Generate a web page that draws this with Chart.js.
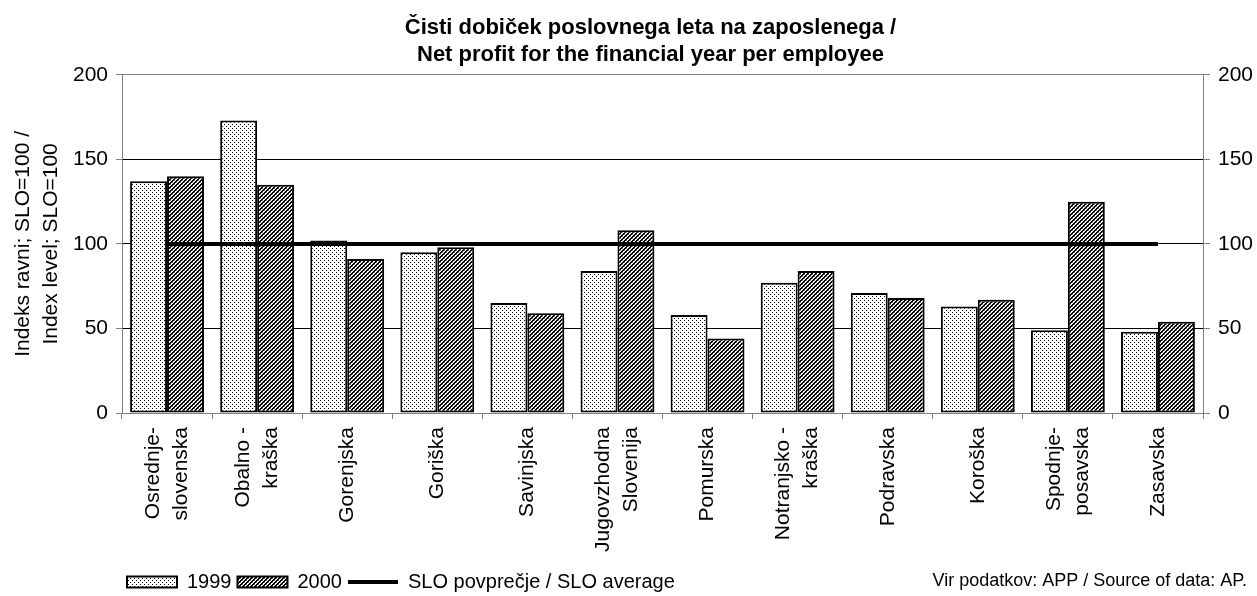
<!DOCTYPE html>
<html>
<head>
<meta charset="utf-8">
<script src="https://cdn.jsdelivr.net/npm/chart.js@4.4.0/dist/chart.umd.min.js"></script>
<style>
  html, body { margin: 0; padding: 0; background: #fff; }
</style>
</head>
<body>
<canvas id="chart" width="1257" height="596"></canvas>
<script>
const regions = [
  ['Osrednje-', 'slovenska'], ['Obalno -', 'kraška'], 'Gorenjska', 'Goriška', 'Savinjska',
  ['Jugovzhodna', 'Slovenija'], 'Pomurska', ['Notranjsko -', 'kraška'], 'Podravska',
  'Koroška', ['Spodnje-', 'posavska'], 'Zasavska'
];
const values1999 = [137, 173, 102, 95, 65, 84, 58, 77, 71, 63, 49, 48];
const values2000 = [140, 135, 91, 98, 59, 108, 44, 84, 68, 67, 125, 54];
const sloAverage = [100, 100, 100, 100, 100, 100, 100, 100, 100, 100, 100, 100];
const yTicks = [0, 50, 100, 150, 200];

const titleLines = ['Čisti dobiček poslovnega leta na zaposlenega /', 'Net profit for the financial year per employee'];
const yTitle = ['Indeks ravni; SLO=100 /', 'Index level; SLO=100'];
const sourceText = 'Vir podatkov: APP / Source of data: AP.';

const FONT = "'Liberation Sans', Arial, sans-serif";
Chart.defaults.font.family = FONT;
Chart.defaults.color = '#000';

const canvas = document.getElementById('chart');
const ctx = canvas.getContext('2d');

// small fill patterns like the old excel ones
function makePattern(draw) {
  const c = document.createElement('canvas');
  c.width = 4; c.height = 4;
  const g = c.getContext('2d');
  g.fillStyle = '#fff';
  g.fillRect(0, 0, 4, 4);
  draw(g);
  return ctx.createPattern(c, 'repeat');
}
const dots = makePattern(g => {
  g.fillStyle = '#000';
  g.fillRect(0, 0, 1, 1);
  g.fillRect(2, 2, 1, 1);
});
const hatch = makePattern(g => {
  for (let x = 0; x < 4; x++) {
    for (let y = 0; y < 4; y++) {
      const d = (x + y) % 4;
      if (d === 0 || d === 1) { g.fillStyle = '#000'; g.fillRect(x, y, 1, 1); }
      else if (d === 2 && x % 2 === 0) { g.fillStyle = '#888'; g.fillRect(x, y, 1, 1); }
    }
  }
});

const useTicks = scale => { scale.ticks = yTicks.map(v => ({ value: v })); };

const tweaks = {
  id: 'tweaks',
  afterLayout(chart) {
    chart.legend.left += 121;
    chart.legend.top += 6;
    chart.titleBlock.left += 22;
    chart.titleBlock.right += 22;
  },
  beforeDraw(chart) {
    // center the two-line category labels on their tick
    chart.scales.x.getLabelItems().forEach(item => {
      if (Array.isArray(item.label) && !item._moved) {
        item.options.translation[0] -= item.font.lineHeight / 2;
        item._moved = true;
      }
    });
  },
  afterDraw(chart) {
    const c = chart.ctx;
    c.save();
    c.font = '18px ' + FONT;
    c.fillStyle = '#000';
    c.textAlign = 'right';
    c.textBaseline = 'middle';
    c.fillText(sourceText, chart.width - 10, 581);
    c.restore();
  }
};

new Chart(ctx, {
  data: {
    labels: regions,
    datasets: [
      {
        type: 'bar', label: '1999', data: values1999, yAxisID: 'y', order: 1,
        backgroundColor: dots, borderColor: '#000', borderWidth: 2, borderSkipped: false,
        categoryPercentage: 0.82, barPercentage: 1.0
      },
      {
        type: 'bar', label: '2000', data: values2000, yAxisID: 'y', order: 1,
        backgroundColor: hatch, borderColor: '#000', borderWidth: 2, borderSkipped: false,
        categoryPercentage: 0.82, barPercentage: 1.0
      },
      {
        type: 'line', label: 'SLO povprečje / SLO average', data: sloAverage, yAxisID: 'y', order: 0,
        borderColor: '#000', backgroundColor: '#000', borderWidth: 4, pointRadius: 0, pointStyle: 'line'
      }
    ]
  },
  options: {
    responsive: false,
    animation: false,
    events: [],
    layout: { padding: 0 },
    plugins: {
      tooltip: { enabled: false },
      title: {
        display: true,
        text: titleLines,
        color: '#000',
        font: { size: 22, weight: 'bold', lineHeight: 1.2 },
        padding: { top: 15, bottom: 7 }
      },
      legend: {
        position: 'bottom',
        align: 'start',
        labels: {
          usePointStyle: true,
          pointStyleWidth: 50,
          boxHeight: 11,
          padding: 6,
          color: '#000',
          font: { size: 20 },
          generateLabels(chart) {
            const items = Chart.defaults.plugins.legend.labels.generateLabels(chart);
            items.forEach(it => {
              it.pointStyle = chart.data.datasets[it.datasetIndex].type === 'line' ? 'line' : 'rect';
            });
            return items.sort((a, b) => a.datasetIndex - b.datasetIndex);
          }
        }
      }
    },
    scales: {
      x: {
        type: 'category',
        offset: true,
        grid: { offset: true, drawOnChartArea: false, drawTicks: true, tickLength: 6, color: '#808080', tickColor: '#808080' },
        border: { color: '#808080' },
        ticks: { autoSkip: false, minRotation: 90, maxRotation: 90, padding: 8, color: '#000', font: { size: 21, lineHeight: 1.33 } },
        afterFit: s => { s.height = 147; }
      },
      y: {
        position: 'left',
        min: 0,
        max: 200,
        afterBuildTicks: useTicks,
        grid: {
          color: c => (c.tick && (c.tick.value === 0 || c.tick.value === 200)) ? '#808080' : '#000',
          tickColor: '#808080',
          tickLength: 6
        },
        border: { color: '#808080' },
        ticks: { padding: 8, color: '#000', font: { size: 21 } },
        title: { display: true, text: yTitle, color: '#000', font: { size: 21, lineHeight: 1.33 }, padding: { top: 9, bottom: 0 } },
        afterFit: s => { s.width = 122; }
      },
      y2: {
        position: 'right',
        min: 0,
        max: 200,
        afterBuildTicks: useTicks,
        grid: { drawOnChartArea: false, tickColor: '#808080', tickLength: 7 },
        border: { color: '#808080' },
        ticks: { padding: 8, color: '#000', font: { size: 21 } },
        afterFit: s => { s.width = 54; }
      }
    }
  },
  plugins: [tweaks]
});
</script>
</body>
</html>
